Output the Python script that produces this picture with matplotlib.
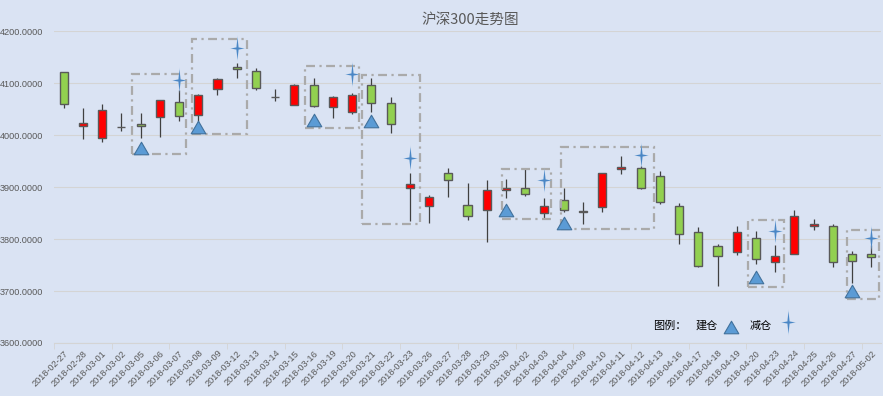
import matplotlib
matplotlib.use("Agg")
import matplotlib.pyplot as plt
from matplotlib.path import Path
from matplotlib.patches import Rectangle
import numpy as np

plt.rcParams["font.family"] = ["Noto Sans CJK SC", "DejaVu Sans"]

# ---- data ----------------------------------------------------------------
dates = ["2018-02-27", "2018-02-28", "2018-03-01", "2018-03-02", "2018-03-05", "2018-03-06",
         "2018-03-07", "2018-03-08", "2018-03-09", "2018-03-12", "2018-03-13", "2018-03-14",
         "2018-03-15", "2018-03-16", "2018-03-19", "2018-03-20", "2018-03-21", "2018-03-22",
         "2018-03-23", "2018-03-26", "2018-03-27", "2018-03-28", "2018-03-29", "2018-03-30",
         "2018-04-02", "2018-04-03", "2018-04-04", "2018-04-09", "2018-04-10", "2018-04-11",
         "2018-04-12", "2018-04-13", "2018-04-16", "2018-04-17", "2018-04-18", "2018-04-19",
         "2018-04-20", "2018-04-23", "2018-04-24", "2018-04-25", "2018-04-26", "2018-04-27",
         "2018-05-02"]
opens = [4121, 4017, 3994, 4016, 4021, 4035, 4063, 4038, 4088, 4131, 4123, 4074, 4058, 4096,
         4054, 4045, 4096, 4062, 3899, 3864, 3927, 3865, 3856, 3894, 3898, 3850, 3875, 3853,
         3862, 3934, 3937, 3921, 3863, 3813, 3787, 3775, 3802, 3756, 3771, 3825, 3825, 3771,
         3771]
closes = [4060, 4023, 4048, 4016, 4017, 4067, 4037, 4077, 4108, 4127, 4090, 4074, 4096, 4056,
          4073, 4078, 4062, 4021, 3906, 3881, 3913, 3844, 3894, 3898, 3887, 3863, 3856, 3853,
          3927, 3938, 3898, 3871, 3810, 3749, 3767, 3813, 3762, 3767, 3844, 3829, 3756, 3757,
          3765]
highs = [4122, 4052, 4061, 4043, 4042, 4068, 4087, 4079, 4111, 4139, 4130, 4088, 4099, 4110,
         4076, 4081, 4110, 4073, 3928, 3885, 3937, 3908, 3913, 3915, 3934, 3879, 3898, 3871,
         3927, 3960, 3940, 3931, 3869, 3823, 3790, 3825, 3815, 3788, 3856, 3838, 3829, 3777,
         3788]
lows = [4052, 3992, 3987, 4008, 3995, 3997, 4027, 4026, 4077, 4111, 4087, 4065, 4058, 4055,
        4033, 4040, 4045, 4004, 3834, 3831, 3882, 3837, 3794, 3879, 3883, 3840, 3853, 3829,
        3852, 3925, 3896, 3867, 3790, 3746, 3710, 3769, 3752, 3737, 3771, 3817, 3746, 3715,
        3746]

buy_idx = [4, 7, 13, 16, 23, 26, 36, 41]           # 建仓
buy_val = [3975, 4015, 4029, 4028, 3856, 3831, 3727, 3701]
sell_idx = [6, 9, 15, 18, 25, 30, 37, 42]          # 减仓
sell_val = [4106, 4167, 4118, 3956, 3914, 3962, 3815, 3802]

# dash-dot boxes: (left idx, right idx, low, high)
box_left = [3.54, 6.66, 12.55, 15.49, 22.77, 25.84, 35.56, 40.75]
box_right = [6.36, 9.55, 15.37, 18.54, 25.33, 30.69, 37.46, 42.39]
box_low = [3963, 4003, 4014, 3829, 3839, 3820, 3707, 3685]
box_high = [4118, 4185, 4134, 4115, 3935, 3978, 3836, 3817]

# ---- styling --------------------------------------------------------------
BG = "#dae3f3"
RED, GREEN = "#ff0000", "#92d050"
BLUE, BLUE_EDGE = "#5b9bd5", "#41719c"
TXT = "#595959"
NUMFONT = ["Liberation Sans", "DejaVu Sans"]

tri = Path([(0, 0.86), (-1, -0.86), (1, -0.86), (0, 0.86)],
           [Path.MOVETO, Path.LINETO, Path.LINETO, Path.CLOSEPOLY])
w = 0.09
star = Path([(0, 1), (w, w), (0.6, 0), (w, -w), (0, -1), (-w, -w), (-0.6, 0), (-w, w), (0, 1)],
            [Path.MOVETO] + [Path.LINETO] * 7 + [Path.CLOSEPOLY])

fig = plt.figure(figsize=(8.83, 3.96), dpi=100, facecolor=BG)
ax = fig.add_axes([54 / 883, 53 / 396, 827 / 883, 311.7 / 396], facecolor=BG)

x = np.arange(len(dates))
o, c = np.array(opens), np.array(closes)
cols = [RED if cc > oo else GREEN for oo, cc in zip(o, c)]
ax.vlines(x, lows, highs, color="#404040", lw=0.9, zorder=2)
ax.bar(x, np.maximum(np.abs(c - o), 0.3), bottom=np.minimum(o, c), width=0.42,
       color=cols, edgecolor="#595959", lw=1.0, zorder=3)

for l, r, lo, hi in zip(box_left, box_right, box_low, box_high):
    ax.add_patch(Rectangle((l, lo), r - l, hi - lo, fill=False, ec="#aaaaaa", lw=1.6,
                           ls=(0, (4, 2, 1, 2)), zorder=4))

ax.plot(buy_idx, buy_val, ls="none", marker=tri, ms=10.5, mfc=BLUE, mec=BLUE_EDGE, mew=0.8, zorder=5)
ax.plot(sell_idx, sell_val, ls="none", marker=star, ms=19, mfc="#9dc3e6", mec="none", alpha=0.6, zorder=5)
ax.plot(sell_idx, sell_val, ls="none", marker=star, ms=16, mfc="#4a86c5", mec="none", zorder=6)

ax.set_xlim(-0.5, len(dates) - 0.5)
ax.set_ylim(3600, 4200)
ax.set_yticks(np.arange(3600, 4201, 100))
ax.set_yticklabels([f"{v:.4f}" for v in range(3600, 4201, 100)], family=NUMFONT)
ax.grid(axis="y", color="#d4d4d4", lw=0.8, zorder=0)
ax.set_axisbelow(True)
for s in ["top", "right", "left"]:
    ax.spines[s].set_visible(False)
ax.spines["bottom"].set_color("#d4d4d4")
ax.tick_params(axis="y", length=0, pad=8, labelsize=6.6, labelcolor=TXT)
ax.set_xticks(x)
ax.set_xticklabels(dates, rotation=45, ha="right", rotation_mode="anchor", family=NUMFONT)
ax.tick_params(axis="x", length=0, pad=4, labelsize=6.6, labelcolor=TXT)
ax.set_xticks(np.arange(-0.5, len(dates), 3), minor=True)
ax.tick_params(axis="x", which="minor", length=4, color="#d4d4d4")

fig.text(0.532, 0.949, "沪深300走势图", ha="center", va="center", fontsize=10.5, color=TXT)

# legend drawn by hand like the original
fig.text(653 / 883, 1 - 326 / 396, "图例：", ha="left", va="center", fontsize=8, color="black")
fig.text(696 / 883, 1 - 326 / 396, "建仓", ha="left", va="center", fontsize=8, color="black")
fig.text(750 / 883, 1 - 326 / 396, "减仓", ha="left", va="center", fontsize=8, color="black")
lax = fig.add_axes([0, 0, 1, 1], facecolor="none")
lax.set_xlim(0, 883); lax.set_ylim(396, 0); lax.axis("off")
lax.plot([731], [327], ls="none", marker=tri, ms=10.5, mfc=BLUE, mec=BLUE_EDGE, mew=0.8)
lax.plot([788], [322], ls="none", marker=star, ms=19, mfc="#9dc3e6", mec="none", alpha=0.6)
lax.plot([788], [322], ls="none", marker=star, ms=16, mfc="#4a86c5", mec="none")

fig.savefig("out.png", dpi=100, facecolor=BG)
